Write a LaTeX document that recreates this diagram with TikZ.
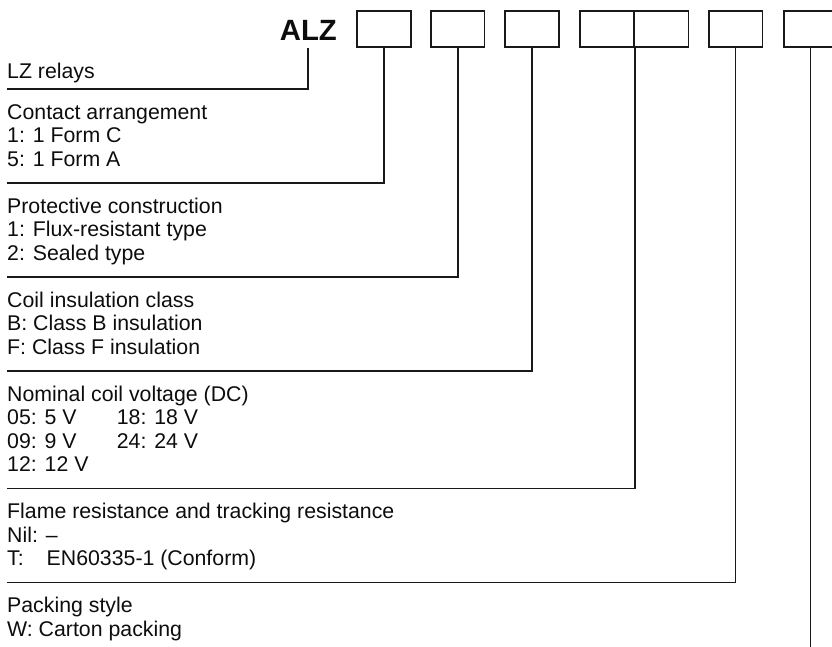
\documentclass[tikz,border=0pt]{standalone}
\usepackage{fontspec}
\setmainfont{Liberation Sans}
\begin{document}
\begin{tikzpicture}[x=1pt,y=-1pt,
  txt/.style={anchor=base west, inner sep=0pt, font=\fontsize{21.3}{24}\selectfont, text=black!95},
  codebox/.style={draw=black!90, line width=1.7pt, minimum width=53.5pt, minimum height=36pt, inner sep=0pt},
  halfbox/.style={codebox, minimum width=54.3pt},
  conn/.style={draw=black!90, line width=1.7pt, line join=miter}]
\useasboundingbox (0,0) rectangle (832,646);
\clip (0,0) rectangle (832,646);
% header
\node[anchor=base east, inner sep=0pt, font=\fontsize{29.3}{30}\selectfont\bfseries, text=black!95] (alz) at (337,40.5) {ALZ};
\node[codebox] (b1) at (384,29) {};
\node[codebox] (b2) at (457.8,29) {};
\node[codebox] (b3) at (532,29) {};
\node[halfbox] (b4a) at (607.15,29) {};
\node[halfbox] (b4b) at (661.45,29) {};
\node[codebox] (b5) at (735.6,29) {};
\node[codebox] (b6) at (810.4,29) {};
% texts
\node[txt] (lz) at (7,78.3) {LZ relays};
\node[txt] (ca0) at (7,119.3) {Contact arrangement};
\node[txt] (ca1) at (7,142.9) {1: 1 Form C};
\node[txt] (ca2) at (7,166.5) {5: 1 Form A};
\node[txt] (pc0) at (7,213.2) {Protective construction};
\node[txt] (pc1) at (7,236.8) {1: Flux-resistant type};
\node[txt] (pc2) at (7,260.4) {2: Sealed type};
\node[txt] (ci0) at (7,307.1) {Coil insulation class};
\node[txt] (ci1) at (7,330.7) {B: Class B insulation};
\node[txt] (ci2) at (7,354.3) {F: Class F insulation};
\node[txt] (nv0) at (7,401.0) {Nominal coil voltage (DC)};
\node[txt] (nv1) at (7,424.6) {05: 5 V};
\node[txt] (nv1b) at (116.7,424.6) {18: 18 V};
\node[txt] (nv2) at (7,448.2) {09: 9 V};
\node[txt] (nv2b) at (116.7,448.2) {24: 24 V};
\node[txt] (nv3) at (7,471.8) {12: 12 V};
\node[txt] (fr0) at (7,518.5) {Flame resistance and tracking resistance};
\node[txt] (fr1) at (7,542.1) {Nil: –};
\node[txt] (fr2) at (7,565.7) {T:};
\node[txt] (fr2b) at (46.5,565.7) {EN60335-1 (Conform)};
\node[txt] (pk0) at (7,612.4) {Packing style};
\node[txt] (pk1) at (7,636.0) {W: Carton packing};
% line ends
\coordinate (e0) at (7,89.3);
\coordinate (e1) at (7,183.2);
\coordinate (e2) at (7,277.1);
\coordinate (e3) at (7,371.0);
\coordinate (e4) at (7,488.5);
\coordinate (e5) at (7,582.4);
\coordinate (bottom) at (0,650);
% connectors
\draw[conn] (alz.south |- b1.south) |- (e0);
\draw[conn] (b1.south) |- (e1);
\draw[conn] (b2.south) |- (e2);
\draw[conn] (b3.south) |- (e3);
\draw[conn] (b4a.south east) |- (e4);
\draw[conn] (b5.south) |- (e5);
\draw[conn] (b6.south) -- (b6.south |- bottom);
\end{tikzpicture}
\end{document}
